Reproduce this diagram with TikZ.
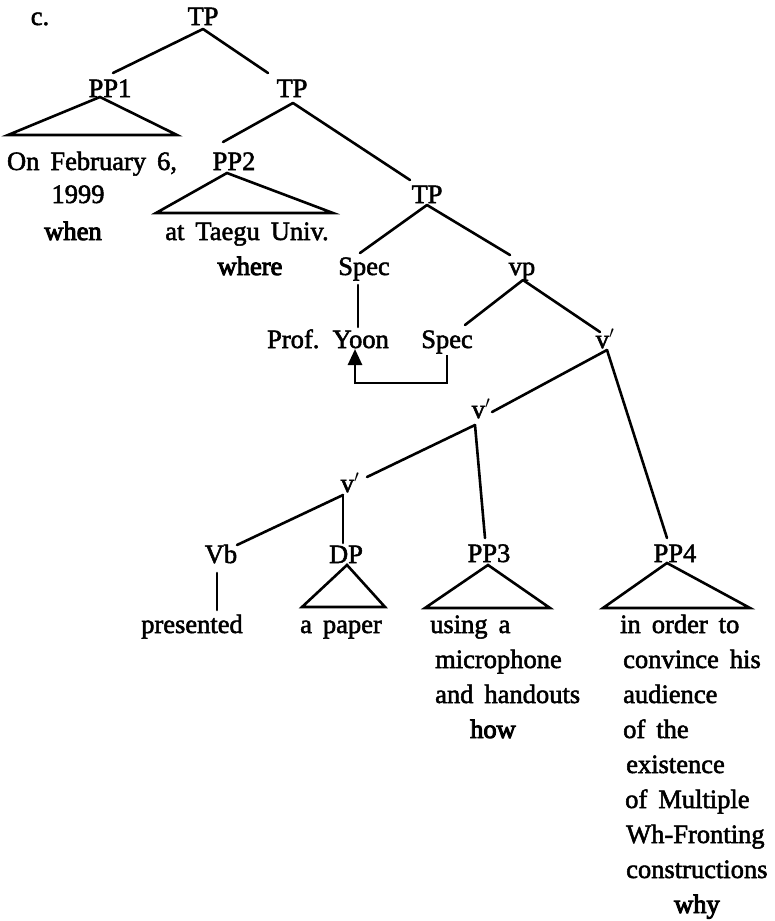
\documentclass[tikz,border=0pt]{standalone}
\usepackage{fontspec}
\setmainfont{Liberation Serif}[FakeBold=2.0]
\newfontfamily\heavy{Liberation Serif}[FakeBold=3.6]
\usetikzlibrary{arrows.meta}

\tikzset{
  txt/.style={font=\fontsize{26.5}{35}\selectfont, inner sep=0pt,
              execute at begin node={\spaceskip=11pt plus 1pt\relax}},
  lab/.style={txt, anchor=base, inner xsep=0pt, inner ysep=3pt,
              text height=17pt, text depth=0pt},
  line/.style={txt, anchor=base},
  wline/.style={txt, anchor=base west},
  whword/.style={line, font=\fontsize{26.5}{35}\heavy},
  branch/.style={line width=2.6pt, line cap=round},
  tri/.style={line width=2.6pt, line join=miter},
  move/.style={line width=2.6pt, line join=miter, -{Triangle[width=14pt,length=16pt]}}
}

\begin{document}
\begin{tikzpicture}[x=1pt, y=-1pt]
\useasboundingbox (0,0) rectangle (775,921);

% example tag
\node[txt, anchor=base] (tag) at (40,25) {c.};

% category labels
\node[lab] (TP0)  at (203,25)  {TP};
\node[lab] (PP1)  at (110,97)  {PP1};
\node[lab] (TP2)  at (292,97)  {TP};
\node[lab] (PP2)  at (234,170) {PP2};
\node[lab] (TP3)  at (427,203) {TP};
\node[lab] (SpecA) at (364,275) {Spec};
\node[lab] (vp)   at (522,275) {vp};
\node[lab] (Yoon) at (328,348) {Prof. Yoon};
\node[lab] (SpecB) at (447,348) {Spec};
\node[lab] (vbA)  at (605,348) {v$'$};
\node[lab] (vbB)  at (481,418) {v$'$};
\node[lab] (vbC)  at (350,492) {v$'$};
\node[lab] (Vb)   at (221,563) {Vb};
\node[lab] (DP)   at (346,563) {DP};
\node[lab] (PP3)  at (489,562) {PP3};
\node[lab] (PP4)  at (675,562) {PP4};

% terminal strings
\node[line] (feb)  at (92,170)  {On February 6,};
\node[line] (yr)   at (78,203)  {1999};
\node[whword] (when) at (73,240)  {when};
\node[line] (taegu) at (247,240) {at Taegu Univ.};
\node[whword] (where) at (250,275) {where};
\node[line] (pres) at (192,633) {presented};
\node[line] (paper) at (341,633) {a paper};

\node[wline] (ppc1) at (430,633) {using a};
\node[wline] (ppc2) at (435,668) {microphone};
\node[wline] (ppc3) at (435,703) {and handouts};
\node[whword] (how) at (493,738) {how};

\node[wline] (ppd1) at (620,633) {in order to};
\node[wline] (ppd2) at (623,668) {convince his};
\node[wline] (ppd3) at (623,703) {audience};
\node[wline] (ppd4) at (623,738) {of the};
\node[wline] (ppd5) at (626,773) {existence};
\node[wline] (ppd6) at (625,808) {of Multiple};
\node[wline] (ppd7) at (626,843) {Wh-Fronting};
\node[wline] (ppd8) at (626,878) {constructions};
\node[whword] (why) at (697,913) {why};

% branches
\draw[branch] ([shift={(0,4)}]TP0.base) -- ([shift={(3,-24)}]PP1.base);
\draw[branch] ([shift={(0,4)}]TP0.base) -- ([shift={(-24,-24)}]TP2.base);
\draw[branch] ([shift={(1,6)}]TP2.base) -- ([shift={(-11,-28)}]PP2.base);
\draw[branch] ([shift={(1,6)}]TP2.base) -- ([shift={(-17,-23)}]TP3.base);
\draw[branch] ([shift={(0,2)}]TP3.base) -- ([shift={(-4,-22)}]SpecA.base);
\draw[branch] ([shift={(0,2)}]TP3.base) -- ([shift={(-12,-20)}]vp.base);
\draw[branch] ([shift={(-6,10)}]SpecA.base) -- ([shift={(30,-21)}]Yoon.base);
\draw[branch] ([shift={(1,5)}]vp.base) -- ([shift={(18,-23)}]SpecB.base);
\draw[branch] ([shift={(1,5)}]vp.base) -- ([shift={(-5,-16)}]vbA.base);
\draw[branch] ([shift={(2,2)}]vbA.base) -- ([shift={(11,-6)}]vbB.base);
\draw[branch] ([shift={(2,2)}]vbA.base) -- ([shift={(-8,-24)}]PP4.base);
\draw[branch] ([shift={(-6,7)}]vbB.base) -- ([shift={(17,-15)}]vbC.base);
\draw[branch] ([shift={(-6,7)}]vbB.base) -- ([shift={(-4,-24)}]PP3.base);
\draw[branch] ([shift={(-7,3)}]vbC.base) -- ([shift={(16,-18)}]Vb.base);
\draw[branch] ([shift={(-7,3)}]vbC.base) -- ([shift={(-3,-20)}]DP.base);
\draw[branch] ([shift={(-4,10)}]Vb.base) -- ([shift={(25,-23)}]pres.base);

% triangles over unanalysed constituents
\draw[tri] ([shift={(-10,0)}]PP1.base) -- ([shift={(-102,38)}]PP1.base)
           -- ([shift={(67,38)}]PP1.base) -- cycle;
\draw[tri] ([shift={(-7,3)}]PP2.base) -- ([shift={(-78,43)}]PP2.base)
           -- ([shift={(99,43)}]PP2.base) -- cycle;
\draw[tri] ([shift={(1,2)}]DP.base) -- ([shift={(-44,44)}]DP.base)
           -- ([shift={(39,44)}]DP.base) -- cycle;
\draw[tri] ([shift={(-1,3)}]PP3.base) -- ([shift={(-64,46)}]PP3.base)
           -- ([shift={(61,46)}]PP3.base) -- cycle;
\draw[tri] ([shift={(-8,1)}]PP4.base) -- ([shift={(-72,46)}]PP4.base)
           -- ([shift={(75,46)}]PP4.base) -- cycle;

% movement of the subject from vp Spec to TP Spec
\draw[move] ([shift={(0,7)}]SpecB.base) |- ([shift={(27,35)}]Yoon.base)
            -- ([shift={(27,1)}]Yoon.base);
\end{tikzpicture}
\end{document}
